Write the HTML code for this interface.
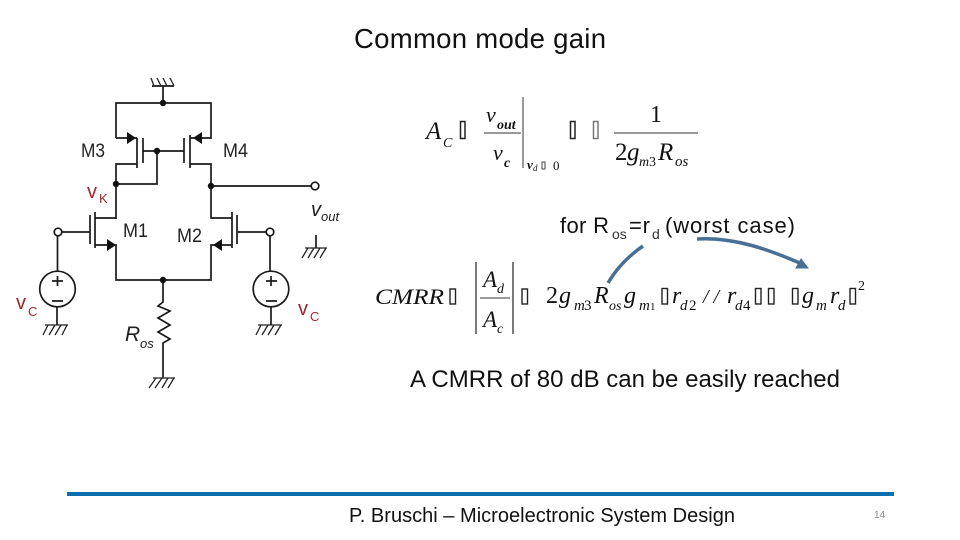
<!DOCTYPE html>
<html><head><meta charset="utf-8"><style>
html,body{margin:0;padding:0;background:#fff}
svg{display:block}
.s{font-family:"Liberation Sans",sans-serif}
.m{font-family:"Liberation Serif",serif;font-style:italic;fill:#111}
.n{font-family:"Liberation Serif",serif;fill:#111}
.w{fill:none;stroke:#1a1a1a;stroke-width:1.7}
.t{fill:none;stroke:#222;stroke-width:1.3}
</style></head><body>
<svg width="960" height="540" viewBox="0 0 960 540" xmlns="http://www.w3.org/2000/svg">
<rect width="960" height="540" fill="#fff"/>
<text class="s" x="354" y="48" font-size="27.500" textLength="252" lengthAdjust="spacing" fill="#111">Common mode gain</text>

<!-- circuit wires -->
<g class="w">
<path d="M152 86H174M163 86V103"/>
<path d="M116 138V103H211V138H190"/>
<path d="M116 138H137M137 138V168M143 138V163"/>
<path d="M184 138V163M190 135V168"/>
<path d="M143 151H184M157 151V184H116M137 164H116V219"/>
<path d="M190 164H211V218H232M211 186H311"/>
<path d="M116 218H95M95 212V248M90 215V244M62 232H90"/>
<path d="M232 212V248M237 215V244M237 232H266"/>
<path d="M95 245H116V280H211V245H232"/>
<path d="M163 280V302L158 306L170 311L158 318L170 325L158 332L170 339L163 343V378"/>
<path d="M57.500 236V271M57 307V325M270 236V271M271 307V325"/>
<path d="M316 235V248"/>
</g>
<g class="t">
<path d="M151 78L154 86M157 78L161 86M163 78L167 86M170 78L174 86"/>
<path d="M45 325H68M48 325L43 335M55 325L49 335M61 325L55 335M67 325L62 335"/>
<path d="M258 325H282M261 325L256 335M268 325L262 335M274 325L268 335M281 325L275 335"/>
<path d="M153 378H175M156 378L149 388M162 378L155 388M168 378L162 388M174 378L168 388"/>
<path d="M305 248H327M308 248L302 258M314 248L308 258M320 248L314 258M326 248L320 258"/>
</g>
<g fill="#111">
<circle cx="163" cy="103" r="3.200"/><circle cx="157" cy="151" r="3.200"/><circle cx="116" cy="184" r="3.200"/><circle cx="211" cy="186" r="3.200"/><circle cx="163" cy="280" r="3.200"/>
<path d="M127 132L136 138L127 144Z"/><path d="M202 132L193 138L202 144Z"/>
<path d="M107 239L116 245L107 251Z"/><path d="M222 239L213 245L222 251Z"/>
</g>
<g fill="#fff" stroke="#1a1a1a" stroke-width="1.700">
<circle cx="58" cy="232" r="3.800"/><circle cx="270" cy="232" r="3.800"/><circle cx="315" cy="186" r="3.800"/>
<circle cx="57.500" cy="289" r="17.800"/><circle cx="271" cy="289" r="17.800"/>
</g>
<g stroke="#1a1a1a" stroke-width="1.700" fill="none">
<path d="M52 281H63M57.500 276V286M52 301H63M266 281H277M271 276V286M266 301H277"/>
</g>
<g class="s" fill="#222">
<text x="81" y="157" font-size="19" textLength="24" lengthAdjust="spacingAndGlyphs">M3</text>
<text x="223" y="157" font-size="19" textLength="25" lengthAdjust="spacingAndGlyphs">M4</text>
<text x="123" y="237" font-size="19" textLength="25" lengthAdjust="spacingAndGlyphs">M1</text>
<text x="177" y="242" font-size="19" textLength="25" lengthAdjust="spacingAndGlyphs">M2</text>
<text x="311" y="216" font-size="20" font-style="italic">v</text>
<text x="321" y="221" font-size="13" font-style="italic">out</text>
<text x="125" y="341" font-size="21" font-style="italic">R</text>
<text x="140" y="348" font-size="13" font-style="italic">os</text>
</g>
<g class="s" fill="#9b2a2e">
<text x="87" y="198" font-size="20">v</text><text x="99" y="203" font-size="13">K</text>
<text x="16" y="309" font-size="20">v</text><text x="28" y="316" font-size="13">C</text>
<text x="298" y="315" font-size="20">v</text><text x="310" y="321" font-size="13">C</text>
</g>

<!-- equation 1 -->
<g>
<text class="m" x="426" y="139" font-size="25">A</text><text class="m" x="443" y="147" font-size="14">C</text>
<rect x="460.500" y="121.500" width="4.500" height="17" fill="none" stroke="#222" stroke-width="1.500"/>
<text class="m" x="486" y="122" font-size="22">v</text><text class="m" x="497" y="129" font-size="14" font-weight="bold">out</text>
<path d="M484 133H521" stroke="#333" stroke-width="1"/>
<text class="m" x="493" y="160" font-size="22">v</text><text class="m" x="504" y="167" font-size="14" font-weight="bold">c</text>
<path d="M523 97V168" stroke="#333" stroke-width="1"/>
<text class="m" x="527" y="169" font-size="13" font-weight="bold">v</text><text class="m" x="533" y="171" font-size="9">d</text>
<rect x="542" y="162" width="3" height="7" fill="none" stroke="#444" stroke-width="1"/>
<text class="n" x="553" y="170" font-size="13">0</text>
<rect x="570.500" y="121.500" width="4.500" height="17" fill="none" stroke="#222" stroke-width="1.500"/>
<rect x="593.500" y="121.500" width="4.500" height="17" fill="none" stroke="#777" stroke-width="1.500"/>
<text class="n" x="650" y="122" font-size="24">1</text>
<path d="M614 133H698" stroke="#333" stroke-width="1"/>
<text class="n" x="615" y="160" font-size="25">2</text><text class="m" x="627" y="160" font-size="25">g</text><text class="m" x="639" y="166" font-size="14">m</text><text class="n" x="649" y="166" font-size="14">3</text>
<text class="m" x="658" y="160" font-size="25">R</text><text class="m" x="675" y="166" font-size="15">os</text>
</g>

<!-- for Ros=rd -->
<text class="s" x="560" y="233" font-size="22" textLength="49" lengthAdjust="spacing" fill="#111">for R</text>
<text class="s" x="612" y="239" font-size="14" fill="#333">os</text>
<text class="s" x="629" y="233" font-size="22" textLength="21" lengthAdjust="spacing" fill="#111">=r</text>
<text class="s" x="652" y="239" font-size="14" fill="#333">d</text>
<text class="s" x="665" y="233" font-size="22" textLength="130" lengthAdjust="spacing" fill="#111">(worst case)</text>

<!-- equation 2 -->
<g>
<text class="m" x="375" y="304" font-size="22" textLength="69" lengthAdjust="spacingAndGlyphs">CMRR</text>
<rect x="450" y="289" width="5.500" height="15" fill="none" stroke="#222" stroke-width="1.400"/>
<path d="M476 262V334M513 262V334" stroke="#222" stroke-width="1.200"/>
<path d="M480 298H510" stroke="#333" stroke-width="1"/>
<text class="m" x="483" y="287" font-size="23">A</text><text class="m" x="497" y="293" font-size="14">d</text>
<text class="m" x="483" y="327" font-size="23">A</text><text class="m" x="497" y="333" font-size="14">c</text>
<rect x="522" y="289" width="5.500" height="15" fill="none" stroke="#222" stroke-width="1.400"/>
<text class="n" x="546" y="303" font-size="24">2</text><text class="m" x="559" y="303" font-size="24">g</text><text class="m" x="574" y="310" font-size="15">m</text><text class="n" x="584" y="310" font-size="15">3</text>
<text class="m" x="594" y="303" font-size="24">R</text><text class="m" x="609" y="310" font-size="14">os</text>
<text class="m" x="624" y="303" font-size="24">g</text><text class="m" x="639" y="310" font-size="15">m</text><text class="n" x="650" y="310" font-size="11">1</text>
<rect x="662" y="288.500" width="5.500" height="15.500" fill="none" stroke="#222" stroke-width="1.400"/>
<text class="m" x="672" y="303" font-size="24">r</text><text class="m" x="680" y="310" font-size="15">d</text><text class="n" x="689" y="310" font-size="15">2</text>
<text class="m" x="703" y="303" font-size="20">/ /</text>
<text class="m" x="727" y="303" font-size="24">r</text><text class="m" x="735" y="310" font-size="15">d</text><text class="n" x="743" y="310" font-size="15">4</text>
<rect x="755.500" y="288.500" width="5.500" height="15.500" fill="none" stroke="#222" stroke-width="1.400"/>
<rect x="768.500" y="288.500" width="5.500" height="15.500" fill="none" stroke="#222" stroke-width="1.400"/>
<rect x="792.500" y="288.500" width="5.500" height="15.500" fill="none" stroke="#222" stroke-width="1.400"/>
<text class="m" x="802" y="303" font-size="24">g</text><text class="m" x="816" y="310" font-size="15">m</text>
<text class="m" x="830" y="303" font-size="24">r</text><text class="m" x="838" y="310" font-size="15">d</text>
<rect x="850" y="288.500" width="5.500" height="15.500" fill="none" stroke="#222" stroke-width="1.400"/>
<text class="n" x="858" y="290" font-size="14">2</text>
</g>

<!-- blue curved arrows -->
<path d="M608 283C618 266 630 255 643 246" fill="none" stroke="#4a6f96" stroke-width="3.500"/>
<path d="M697 239C735 237 770 250 802 264" fill="none" stroke="#4a6f96" stroke-width="3.500"/>
<path d="M808 268L796 268L801 259Z" fill="#4a6f96" stroke="#4a6f96" stroke-width="1"/>

<text class="s" x="410" y="387" font-size="24" textLength="430" lengthAdjust="spacing" fill="#111">A CMRR of 80 dB can be easily reached</text>

<rect x="67" y="492" width="827" height="4" fill="#0b6fae"/>
<text class="s" x="349" y="522" font-size="20" textLength="386" lengthAdjust="spacing" fill="#111">P. Bruschi – Microelectronic System Design</text>
<text class="s" x="874" y="518" font-size="10" fill="#888">14</text>
</svg>
</body></html>
